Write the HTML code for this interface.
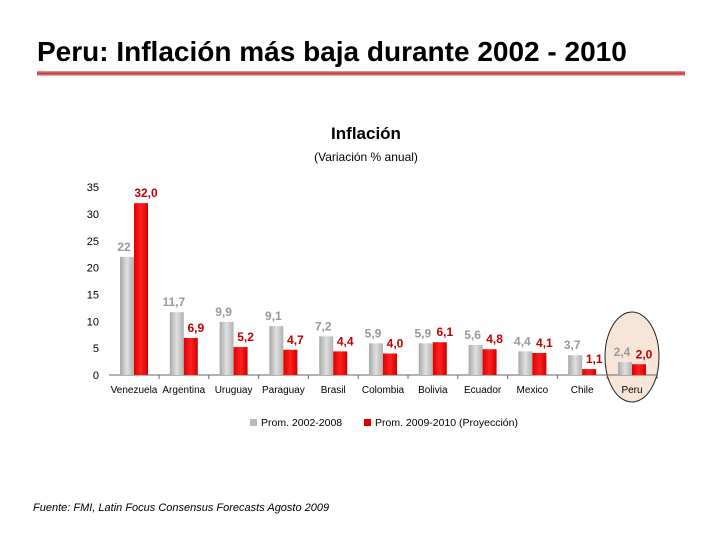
<!DOCTYPE html>
<html><head><meta charset="utf-8"><style>
body{margin:0;width:720px;height:540px;background:#fff;font-family:"Liberation Sans",sans-serif;overflow:hidden}
</style></head><body>
<div style="position:absolute;left:37px;top:38px;font-size:28px;line-height:28px;font-weight:bold;color:#000;white-space:nowrap">Peru: Inflación más baja durante 2002 - 2010</div>
<div style="position:absolute;left:37px;top:71px;width:648px;height:5px;background:linear-gradient(#e8a0a0,#c03030,#f0c8c8)"></div>
<svg width="720" height="540" style="position:absolute;left:0;top:0">
<defs>
<linearGradient id="g" x1="0" x2="1"><stop offset="0" stop-color="#a8a8a8"/><stop offset="0.5" stop-color="#e0e0e0"/><stop offset="1" stop-color="#b0b0b0"/></linearGradient>
<linearGradient id="r" x1="0" x2="1"><stop offset="0" stop-color="#e00000"/><stop offset="0.5" stop-color="#ff2020"/><stop offset="1" stop-color="#d00000"/></linearGradient>
</defs>
<text x="366" y="139" text-anchor="middle" font-size="17" font-weight="bold">Inflación</text>
<text x="366" y="161" text-anchor="middle" font-size="12">(Variación % anual)</text>
<ellipse cx="632" cy="357" rx="27" ry="45" fill="#f7e6d8" stroke="#222" stroke-width="1"/>
<g id="chart"></g>
<rect x="250" y="419" width="7" height="7" fill="#bbb"/>
<text x="261" y="426" font-size="10.5">Prom. 2002-2008</text>
<rect x="364" y="419" width="7" height="7" fill="#e00000"/>
<text x="375" y="426" font-size="10.5">Prom. 2009-2010 (Proyección)</text>
<text x="33" y="511" font-size="11" font-style="italic">Fuente: FMI, Latin Focus Consensus Forecasts Agosto 2009</text>
</svg>
<script>
const categories=["Venezuela","Argentina","Uruguay","Paraguay","Brasil","Colombia","Bolivia","Ecuador","Mexico","Chile","Peru"];
const seriesA=[22,11.7,9.9,9.1,7.2,5.9,5.9,5.6,4.4,3.7,2.4];
const seriesB=[32.0,6.9,5.2,4.7,4.4,4.0,6.1,4.8,4.1,1.1,2.0];
const labelsA=["22","11,7","9,9","9,1","7,2","5,9","5,9","5,6","4,4","3,7","2,4"];
const labelsB=["32,0","6,9","5,2","4,7","4,4","4,0","6,1","4,8","4,1","1,1","2,0"];
const yTicks=[0,5,10,15,20,25,30,35];
const NS="http://www.w3.org/2000/svg";
const g=document.getElementById('chart');
const y=v=>375-v*5.37;
const x=i=>134+i*49.8;
function mk(t,a,txt){const e=document.createElementNS(NS,t);for(const k in a)e.setAttribute(k,a[k]);if(txt!==undefined)e.textContent=txt;g.appendChild(e);return e;}
yTicks.forEach(v=>{const e=mk('text',{x:99,y:y(v)+4,'text-anchor':'end','font-size':11},String(v));

});
const ax=mk('line',{x1:109,x2:658,y1:375,y2:375,stroke:'#666'});


categories.forEach((c,i)=>{
 const cx=x(i);
 const t=mk('line',{x1:cx+25,x2:cx+25,y1:375,y2:379,stroke:'#666'});
 
 
 const a=mk('rect',{x:cx-14,y:y(seriesA[i]),width:14,height:375-y(seriesA[i]),fill:'url(#g)'});
 
 
 const b=mk('rect',{x:cx,y:y(seriesB[i]),width:14,height:375-y(seriesB[i]),fill:'url(#r)'});
 
 
 const la=mk('text',{x:cx-10,y:y(seriesA[i])-6,'text-anchor':'middle','font-size':12,'font-weight':'bold',fill:'#999'},labelsA[i]);
 
 
 const lb=mk('text',{x:cx+12,y:y(seriesB[i])-6,'text-anchor':'middle','font-size':12,'font-weight':'bold',fill:'#c00000'},labelsB[i]);
 
 
 const cl=mk('text',{x:cx,y:393,'text-anchor':'middle','font-size':10},c);
 
 
});
</script>
</body></html>
